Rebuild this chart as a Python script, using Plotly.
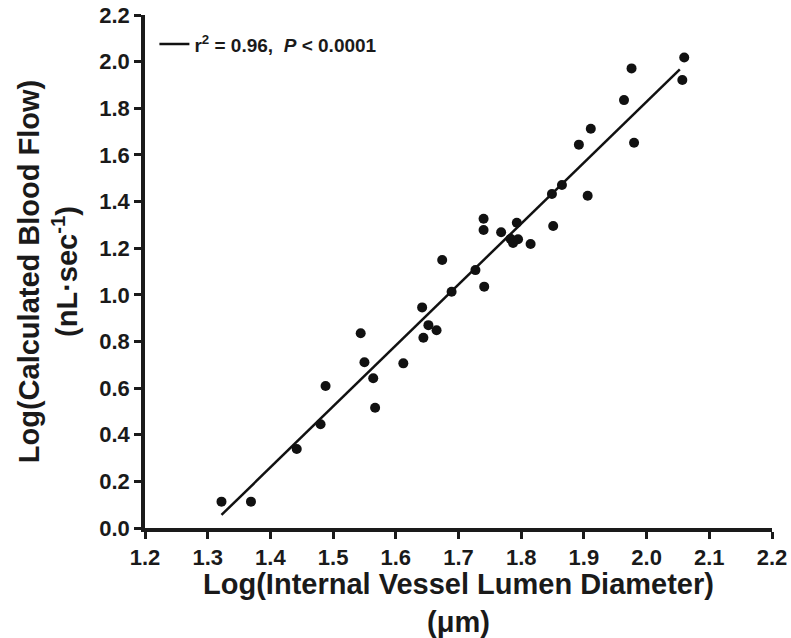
import plotly.graph_objects as go

# Data
vessel_log_diam = [1.322, 1.369, 1.442, 1.480, 1.488, 1.544, 1.550, 1.564, 1.567,
                   1.612, 1.642, 1.644, 1.652, 1.665, 1.674, 1.689, 1.727, 1.740,
                   1.740, 1.741, 1.768, 1.783, 1.787, 1.793, 1.795, 1.815, 1.849,
                   1.851, 1.865, 1.892, 1.906, 1.911, 1.964, 1.976, 1.980, 2.057, 2.060]
flow_log = [0.113, 0.113, 0.339, 0.445, 0.609, 0.835, 0.711, 0.642, 0.516,
            0.706, 0.946, 0.816, 0.870, 0.848, 1.149, 1.013, 1.106, 1.326,
            1.278, 1.035, 1.268, 1.240, 1.222, 1.309, 1.238, 1.218, 1.432,
            1.295, 1.471, 1.644, 1.425, 1.712, 1.835, 1.971, 1.652, 1.921, 2.018]

fit_x = [1.322, 2.053]
fit_y = [0.056, 1.967]

x_ticks = [1.2, 1.3, 1.4, 1.5, 1.6, 1.7, 1.8, 1.9, 2.0, 2.1, 2.2]
y_ticks = [0.0, 0.2, 0.4, 0.6, 0.8, 1.0, 1.2, 1.4, 1.6, 1.8, 2.0, 2.2]

FONT = "Liberation Sans, Arial, Helvetica, sans-serif"
INK = "#1a1a1a"

fig = go.Figure()
fig.add_trace(go.Scatter(
    x=vessel_log_diam, y=flow_log, mode="markers",
    marker=dict(size=10, color="#111111"), showlegend=False))
fig.add_trace(go.Scatter(
    x=fit_x, y=fit_y, mode="lines",
    line=dict(color="#111111", width=2.5),
    name="r<sup>2</sup> = 0.96,  <i>P</i> < 0.0001", showlegend=True))

axis_common = dict(
    showgrid=False, zeroline=False, showline=True, linecolor=INK, linewidth=3.5,
    ticks="outside", ticklen=7, tickwidth=3, tickcolor=INK,
    tickfont=dict(family=FONT, size=22, color=INK, weight="bold"),
    tickformat=".1f", mirror=False, automargin=False,
)

fig.update_layout(
    width=791, height=638,
    margin=dict(l=145, r=19, t=15, b=110),
    paper_bgcolor="white", plot_bgcolor="white",
    font=dict(family=FONT, color=INK),
    xaxis=dict(range=[1.2, 2.2], tickvals=x_ticks, **axis_common,
               title=dict(text="Log(Internal Vessel Lumen Diameter)<br>(\u03bcm)",
                          font=dict(family=FONT, size=29, color=INK, weight="bold"),
                          standoff=2)),
    yaxis=dict(range=[0.0, 2.2], tickvals=y_ticks, **axis_common,
               title=dict(text="Log(Calculated Blood Flow)<br>(nL\u00b7sec<sup>-1</sup>)",
                          font=dict(family=FONT, size=29, color=INK, weight="bold"),
                          standoff=14)),
    legend=dict(x=0.015, y=0.98, xanchor="left", yanchor="top",
                bgcolor="rgba(0,0,0,0)",
                font=dict(family=FONT, size=19, color=INK, weight="bold")),
)

fig.write_html("out.html")
